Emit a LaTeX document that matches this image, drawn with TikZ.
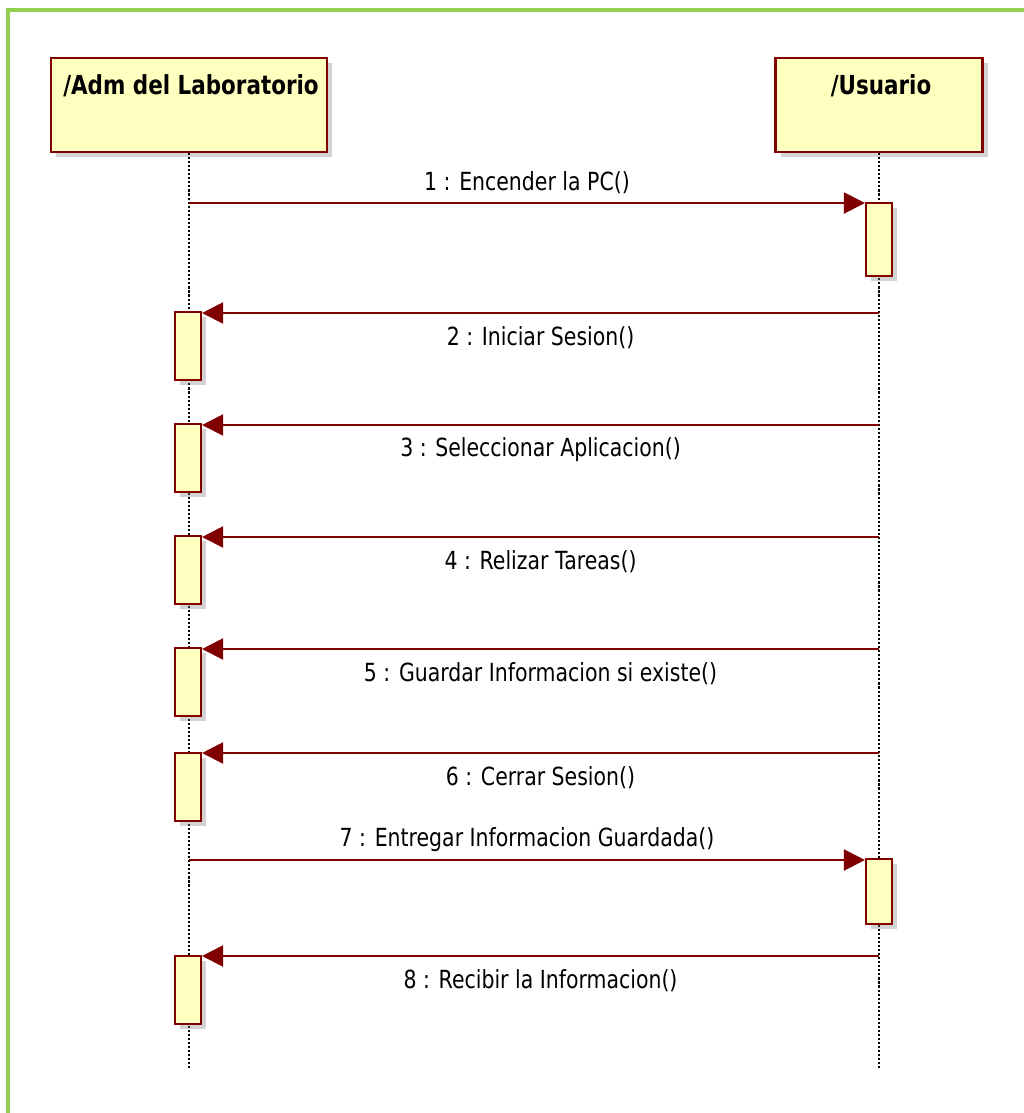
\documentclass[tikz,border=0pt]{standalone}
\usepackage{fontspec}
\setmainfont{DejaVu Sans}[FakeStretch=0.82]
\usetikzlibrary{arrows.meta,shadows,positioning}
\definecolor{umlred}{RGB}{128,0,0}
\definecolor{umlfill}{RGB}{255,255,192}
\definecolor{framegreen}{RGB}{146,208,80}

\begin{document}
\begin{tikzpicture}[x=0.02cm,y=-0.02cm,
  actor/.style={draw=umlred,fill=umlfill,line width=1.2pt,inner sep=0pt,
    drop shadow={opacity=0.35,shadow xshift=3pt,shadow yshift=-3pt}},
  title/.style={font=\fontsize{14.9}{18}\selectfont\bfseries},
  act/.style={draw=umlred,fill=umlfill,line width=1.2pt,inner sep=0pt,anchor=north,
    minimum width=0.52cm,minimum height=1.36cm,
    drop shadow={opacity=0.35,shadow xshift=3pt,shadow yshift=-3pt}},
  lifeline/.style={line width=1.4pt,dash pattern=on 1.2pt off 1.1pt},
  msg/.style={umlred,line width=1.2pt,-{Triangle[length=12pt,width=12pt]}},
  txt/.style={text=black,font=\fontsize{14.2}{17}\selectfont},
]
\useasboundingbox (0,0) rectangle (1024,1113);
% marco
\draw[framegreen,line width=2pt] (1024,10) -- (8,10) -- (8,1113);

% actores
\node[actor,minimum width=5.52cm,minimum height=1.88cm] (adm) at (189,105) {};
\node[actor,minimum width=4.14cm,minimum height=1.88cm] (usr) at (879,105) {};
\node[title] (admtxt) at (191,86) {/Adm del Laboratorio};
\node[title] (usrtxt) at (881,86) {/Usuario};

% lineas de vida
\coordinate (adme) at (189,1068);
\coordinate (usre) at (879,1068);
\draw[lifeline] (adm.south) -- (adme);
\draw[lifeline] (usr.south) -- (usre);

% activaciones
\node[act,minimum height=1.46cm] (u1) at (879,202) {};
\node[act] (a2) at (188,311) {};
\node[act] (a3) at (188,423) {};
\node[act] (a4) at (188,535) {};
\node[act] (a5) at (188,647) {};
\node[act] (a6) at (188,752) {};
\node[act,minimum height=1.3cm] (u7) at (879,858) {};
\node[act] (a8) at (188,955) {};

% mensajes
\coordinate (s1) at (189,203);
\coordinate (s2) at (879,313);
\coordinate (s3) at (879,425);
\coordinate (s4) at (879,537);
\coordinate (s5) at (879,649);
\coordinate (s6) at (879,753);
\coordinate (s7) at (189,860);
\coordinate (s8) at (879,956);
\draw[msg] (s1) -- (s1 -| u1.west) node[txt,midway,yshift=0.4cm] (l1) {1 : Encender la PC()};
\draw[msg] (s2) -- (s2 -| a2.east) node[txt,midway,yshift=-0.5cm] (l2) {2 : Iniciar Sesion()};
\draw[msg] (s3) -- (s3 -| a3.east) node[txt,midway,yshift=-0.5cm] (l3) {3 : Seleccionar Aplicacion()};
\draw[msg] (s4) -- (s4 -| a4.east) node[txt,midway,yshift=-0.5cm] (l4) {4 : Relizar Tareas()};
\draw[msg] (s5) -- (s5 -| a5.east) node[txt,midway,yshift=-0.5cm] (l5) {5 : Guardar Informacion si existe()};
\draw[msg] (s6) -- (s6 -| a6.east) node[txt,midway,yshift=-0.5cm] (l6) {6 : Cerrar Sesion()};
\draw[msg] (s7) -- (s7 -| u7.west) node[txt,midway,yshift=0.4cm] (l7) {7 : Entregar Informacion Guardada()};
\draw[msg] (s8) -- (s8 -| a8.east) node[txt,midway,yshift=-0.5cm] (l8) {8 : Recibir la Informacion()};
\end{tikzpicture}
\end{document}
